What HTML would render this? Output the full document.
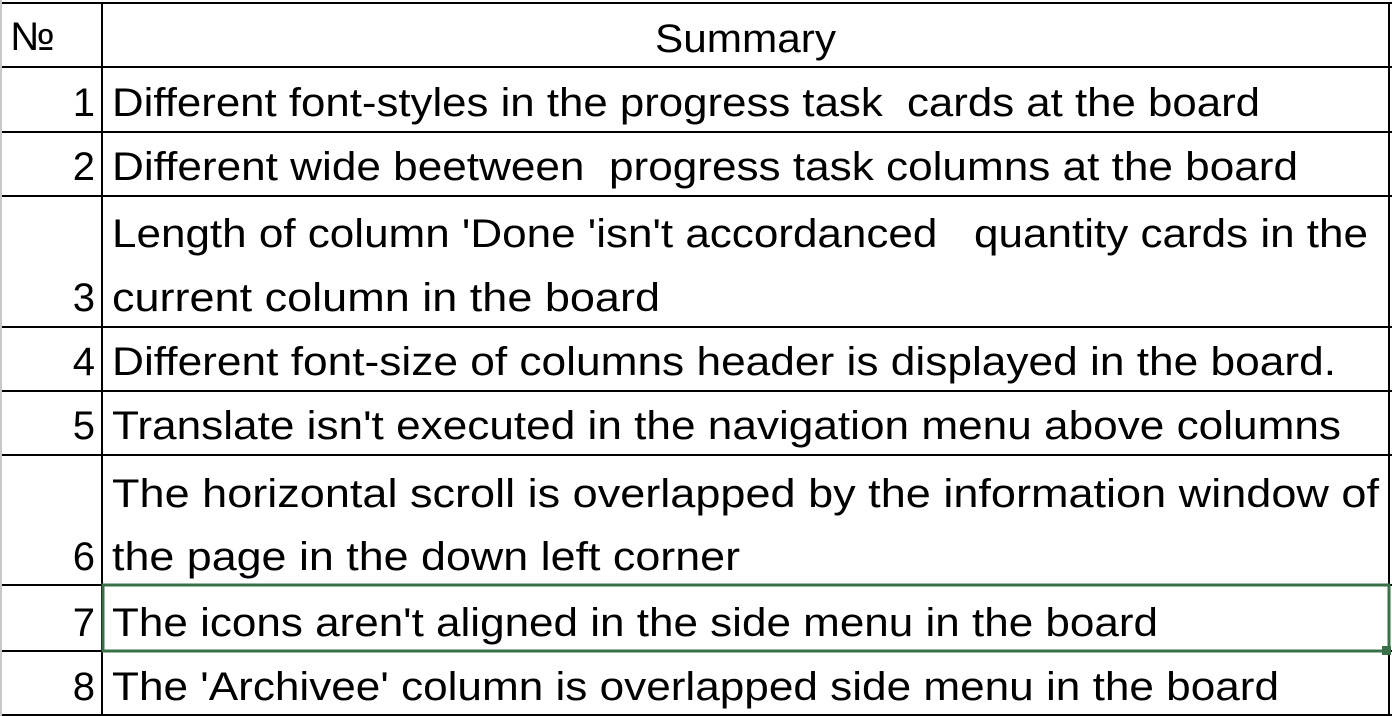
<!DOCTYPE html>
<html><head><meta charset="utf-8"><style>
html,body{margin:0;padding:0;background:#fff;}
svg{display:block;}
text{font-family:"Liberation Sans",sans-serif;font-size:40px;fill:#000;}
</style></head><body>
<svg width="1392" height="716" viewBox="0 0 1392 716" xmlns="http://www.w3.org/2000/svg">
<rect x="0" y="0" width="2" height="716" fill="#c8c8c8"/>
<g stroke="#000" stroke-width="2">
<line x1="2" y1="3" x2="1392" y2="3"/>
<line x1="2" y1="67" x2="1392" y2="67"/>
<line x1="2" y1="132" x2="1392" y2="132"/>
<line x1="2" y1="196" x2="1392" y2="196"/>
<line x1="2" y1="327" x2="1392" y2="327"/>
<line x1="2" y1="391" x2="1392" y2="391"/>
<line x1="2" y1="455" x2="1392" y2="455"/>
<line x1="2" y1="585" x2="1392" y2="585"/>
<line x1="2" y1="651" x2="1392" y2="651"/>
<line x1="2" y1="715" x2="1392" y2="715"/>
<line x1="102" y1="3" x2="102" y2="716"/>
<line x1="1389" y1="3" x2="1389" y2="716"/>
</g>
<rect x="103" y="585" width="1286" height="66" fill="none" stroke="#3a7048" stroke-width="3"/>
<rect x="1382" y="646" width="9" height="9" fill="#3a7048"/>
<text x="10" y="50" textLength="45" lengthAdjust="spacingAndGlyphs">№</text>
<text x="655" y="52" textLength="181" lengthAdjust="spacingAndGlyphs">Summary</text>
<g text-anchor="end">
<text x="95" y="116">1</text>
<text x="95" y="180">2</text>
<text x="95" y="311">3</text>
<text x="95" y="375">4</text>
<text x="95" y="439">5</text>
<text x="95" y="570">6</text>
<text x="95" y="636">7</text>
<text x="95" y="700">8</text>
</g>
<text x="112" y="116" textLength="1148" lengthAdjust="spacingAndGlyphs" xml:space="preserve">Different font-styles in the progress task  cards at the board</text>
<text x="112" y="180" textLength="1186" lengthAdjust="spacingAndGlyphs" xml:space="preserve">Different wide beetween  progress task columns at the board</text>
<text x="112" y="247" textLength="1256" lengthAdjust="spacingAndGlyphs" xml:space="preserve">Length of column 'Done 'isn't accordanced   quantity cards in the</text>
<text x="112" y="311" textLength="548" lengthAdjust="spacingAndGlyphs">current column in the board</text>
<text x="112" y="375" textLength="1224" lengthAdjust="spacingAndGlyphs">Different font-size of columns header is displayed in the board.</text>
<text x="112" y="439" textLength="1229" lengthAdjust="spacingAndGlyphs">Translate isn't executed in the navigation menu above columns</text>
<text x="112" y="507" textLength="1267" lengthAdjust="spacingAndGlyphs">The horizontal scroll is overlapped by the information window of</text>
<text x="112" y="570" textLength="628" lengthAdjust="spacingAndGlyphs">the page in the down left corner</text>
<text x="112" y="636" textLength="1046" lengthAdjust="spacingAndGlyphs">The icons aren't aligned in the side menu in the board</text>
<text x="112" y="700" textLength="1167" lengthAdjust="spacingAndGlyphs">The 'Archivee' column is overlapped side menu in the board</text>
</svg>
</body></html>
